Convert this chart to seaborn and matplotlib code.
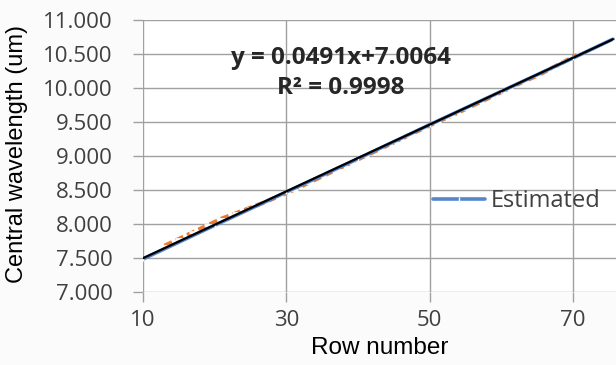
import matplotlib
matplotlib.use("Agg")
import matplotlib.pyplot as plt
import seaborn as sns
import numpy as np
import pandas as pd

# Data
est_rows = [10, 20, 30, 40, 50, 60, 70, 75.6]
est_wl = [7.485, 7.98, 8.47, 8.96, 9.46, 9.95, 10.44, 10.72]

meas_rows = [13, 15, 17, 19, 21, 23, 25, 27, 29, 31, 33, 35, 37, 39, 41, 43, 45,
             47, 49, 51, 53, 55, 57, 59, 61, 63, 65, 67, 69, 71]
meas_wl = [7.68, 7.78, 7.88, 7.98, 8.08, 8.16, 8.24, 8.32, 8.41, 8.50, 8.60, 8.70,
           8.80, 8.90, 9.00, 9.10, 9.20, 9.30, 9.40, 9.50, 9.59, 9.69, 9.79, 9.89,
           9.99, 10.09, 10.18, 10.29, 10.40, 10.51]

trend_slope = 0.0491
trend_intercept = 7.0064
r_squared = 0.9998

x_ticks = [10, 30, 50, 70]
y_ticks = [7.0, 7.5, 8.0, 8.5, 9.0, 9.5, 10.0, 10.5, 11.0]

sns.set_theme(style="white")
plt.rcParams['font.family'] = ['Open Sans', 'DejaVu Sans']

fig = plt.figure(figsize=(6.16, 3.65), dpi=100)
fig.patch.set_facecolor("#fbfbfb")
ax = fig.add_axes([143/616, 1-292/365, 1-143/616, (292-20)/365])
ax.set_facecolor("white")

est_df = pd.DataFrame({"row": est_rows, "wl": est_wl})
meas_df = pd.DataFrame({"row": meas_rows, "wl": meas_wl})

sns.lineplot(data=meas_df, x="row", y="wl", ax=ax, color="#ED7D31", lw=3.0,
             linestyle=(0, (2, 1)), marker="_", markersize=6, mew=2,
             label="_nolegend_")
sns.lineplot(data=est_df, x="row", y="wl", ax=ax, color="#5585CC", lw=2.6,
             marker="|", markersize=3, mew=1, label="Estimated")
tx = np.array([est_rows[0], est_rows[-1]])
sns.lineplot(x=tx, y=trend_slope*tx + trend_intercept, ax=ax, color="black",
             lw=1.6, label="_nolegend_")

ax.set_xlim(10, 76)
ax.set_ylim(7, 11)
ax.set_xticks(x_ticks)
ax.set_yticks(y_ticks)
ax.set_yticklabels([f"{v:.3f}" for v in y_ticks])
ax.grid(True, color="#a0a0a0", lw=1)
for s in ax.spines.values():
    s.set_visible(False)
ax.tick_params(axis="both", length=7, width=1, color="#a0a0a0", direction="out",
               labelsize=16, labelcolor="#404040", left=True, bottom=True)
ax.tick_params(axis="y", pad=15)
ax.tick_params(axis="x", pad=6)

ax.set_xlabel("Row number", family=["Liberation Sans"], fontsize=17.5, color="black", labelpad=4)
ax.set_ylabel("Central wavelength (um)", family=["Liberation Sans"], fontsize=17,
              color="black")
ax.yaxis.set_label_coords(-0.243, 0.507)

ax.text(37.6, 10.44, f"y = {trend_slope}x+{trend_intercept}", ha="center", va="center",
        fontsize=17.5, fontweight="bold", color="#262626")
ax.text(37.6, 10.0, f"R² = {r_squared}", ha="center", va="center",
        fontsize=17.5, fontweight="bold", color="#262626")

leg = ax.legend(loc="center left", bbox_to_anchor=(0.613, 0.335), frameon=False,
                fontsize=17, handlelength=2.2, handletextpad=0.25,
                borderaxespad=0, borderpad=0)
for t in leg.get_texts():
    t.set_color("#404040")

fig.savefig("out.png", dpi=100, facecolor=fig.get_facecolor())
